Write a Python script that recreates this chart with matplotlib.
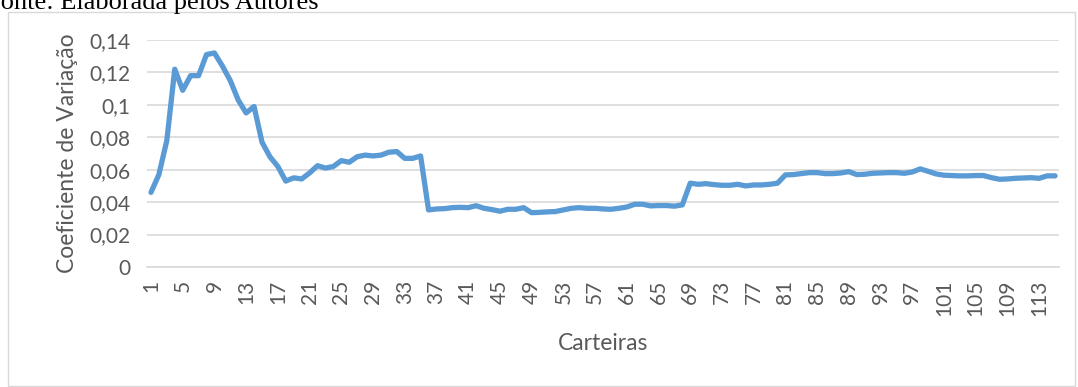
import matplotlib.pyplot as plt
from matplotlib.patches import Rectangle

# Coeficiente de variação por carteira (1..115)
carteiras = list(range(1, 116))
coef_var = [
    0.046, 0.057, 0.078, 0.122, 0.109, 0.118, 0.118, 0.131, 0.132, 0.124,
    0.115, 0.103, 0.095, 0.099, 0.077, 0.068, 0.062, 0.053, 0.055, 0.0543,
    0.058, 0.0625, 0.061, 0.062, 0.0656, 0.0646, 0.068, 0.069, 0.0685, 0.069,
    0.0708, 0.0712, 0.067, 0.067, 0.0685, 0.0352, 0.0358, 0.036, 0.0366, 0.0368,
    0.0366, 0.0378, 0.0362, 0.0354, 0.0344, 0.0356, 0.0356, 0.0366, 0.0335, 0.0337,
    0.034, 0.0342, 0.0352, 0.0362, 0.0366, 0.0362, 0.0362, 0.0358, 0.0356, 0.0362,
    0.037, 0.0387, 0.0387, 0.0377, 0.0379, 0.0379, 0.0375, 0.0383, 0.0517, 0.051,
    0.0514, 0.0508, 0.0504, 0.0504, 0.051, 0.050, 0.0506, 0.0506, 0.051, 0.0517,
    0.0568, 0.057, 0.0576, 0.0582, 0.0582, 0.0576, 0.0576, 0.058, 0.0588, 0.057,
    0.0572, 0.0578, 0.058, 0.0582, 0.0582, 0.0578, 0.0586, 0.0605, 0.059, 0.0574,
    0.0566, 0.0564, 0.0562, 0.0562, 0.0564, 0.0564, 0.0551, 0.0541, 0.0543, 0.0547,
    0.0549, 0.0551, 0.0547, 0.0562, 0.0562,
]
y_ticks = [0, 0.02, 0.04, 0.06, 0.08, 0.1, 0.12, 0.14]
y_labels = ['0', '0,02', '0,04', '0,06', '0,08', '0,1', '0,12', '0,14']
x_ticks = list(range(1, 116, 4))

plt.rcParams['font.family'] = ['Lato', 'DejaVu Sans']
grey = '#595959'

fig = plt.figure(figsize=(10.78, 3.87), dpi=100)
ax = fig.add_axes([147 / 1078, 1 - 267 / 387, (1059 - 147) / 1078, (267 - 40) / 387])

# chart area border
fig.patches.append(Rectangle((8 / 1078, 1 / 387), 1067 / 1078, 374 / 387,
                             transform=fig.transFigure, fill=False,
                             edgecolor='#D9D9D9', linewidth=1))

fig.text(-0.013, 1 - 9 / 387, 'Fonte: Elaborada pelos Autores', family='Liberation Serif',
         fontsize=19, color='black', ha='left', va='baseline')

ax.plot(carteiras, coef_var, color='#5B9BD5', linewidth=3.8,
        solid_joinstyle='round', solid_capstyle='round', zorder=3)

ax.set_xlim(0.5, 115.5)
ax.set_ylim(0, 0.14)
ax.set_yticks(y_ticks)
ax.set_yticklabels(y_labels)
ax.set_xticks(x_ticks)
ax.set_xticklabels([str(t) for t in x_ticks], rotation=90, va='top')
ax.tick_params(axis='both', length=0, labelsize=15, labelcolor=grey)
ax.tick_params(axis='y', pad=12)
ax.tick_params(axis='x', pad=9)

ax.grid(axis='y', color='#D9D9D9', linewidth=1.2)
ax.set_axisbelow(True)
for side in ['top', 'right', 'left']:
    ax.spines[side].set_visible(False)
ax.spines['bottom'].set_color('#D9D9D9')
ax.spines['bottom'].set_linewidth(1.2)

ax.set_xlabel('Carteiras', fontsize=16.5, color=grey, labelpad=12)
ax.set_ylabel('Coeficiente de Variação', fontsize=16.5, color=grey, labelpad=8)

fig.savefig('out.png', dpi=100)
